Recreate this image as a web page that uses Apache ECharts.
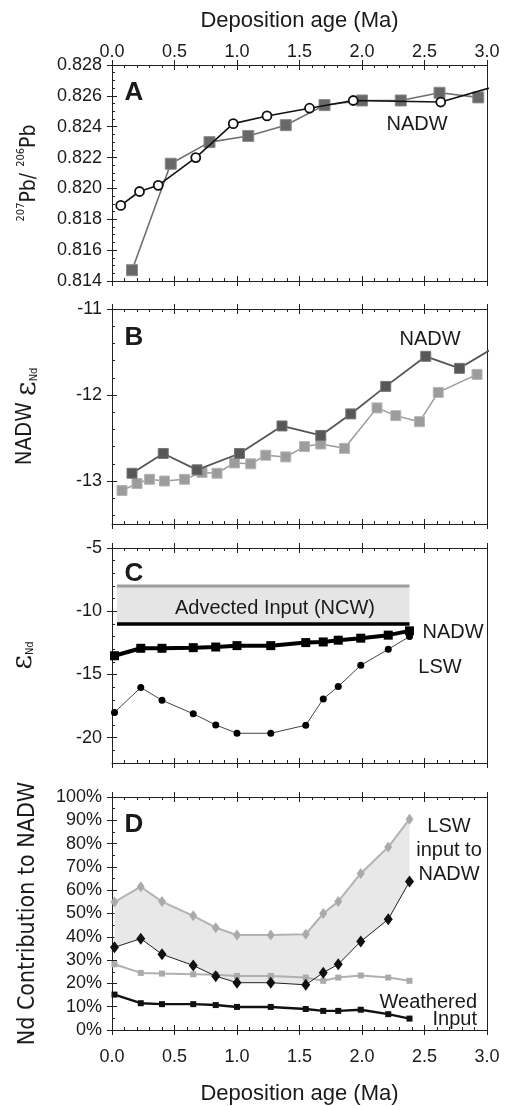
<!DOCTYPE html>
<html><head><meta charset="utf-8">
<script src="https://cdn.jsdelivr.net/npm/echarts@6/dist/echarts.min.js"></script>
<style>html,body{margin:0;padding:0;background:#fff}#c{width:511px;height:1106px}</style>
</head><body><div id="c"></div>
<script>
// ---------- DATA ----------
const ageTicks = [0, 0.5, 1, 1.5, 2, 2.5, 3];
const pbTicks = [0.814, 0.816, 0.818, 0.820, 0.822, 0.824, 0.826, 0.828];
const nadwTicks = [-13, -12, -11];
const epsTicks = [-20, -15, -10, -5];
const pctTicks = [0, 10, 20, 30, 40, 50, 60, 70, 80, 90, 100];

// Panel A: 207Pb/206Pb
const pbCircleAge = [0.07, 0.22, 0.37, 0.67, 0.97, 1.24, 1.58, 1.93, 2.63, 3.10];
const pbCircle    = [0.8189, 0.8198, 0.8202, 0.8220, 0.8242, 0.8247, 0.8252, 0.8257, 0.8256, 0.8267];
const pbSquareAge = [0.16, 0.47, 0.78, 1.09, 1.39, 1.70, 2.00, 2.31, 2.62, 2.93];
const pbSquare    = [0.8147, 0.8216, 0.8230, 0.8234, 0.8241, 0.8254, 0.8257, 0.8257, 0.8262, 0.8259];

// Panel B: NADW eNd
const bDarkAge  = [0.16, 0.41, 0.68, 1.02, 1.36, 1.67, 1.91, 2.19, 2.51, 2.78, 3.10];
const bDark     = [-12.91, -12.68, -12.87, -12.68, -12.36, -12.47, -12.22, -11.90, -11.55, -11.69, -11.41];
const bLightAge = [0.08, 0.20, 0.30, 0.42, 0.58, 0.72, 0.84, 0.98, 1.11, 1.23, 1.39, 1.54, 1.67, 1.86, 2.12, 2.27, 2.46, 2.61, 2.92];
const bLight    = [-13.11, -13.03, -12.98, -13.00, -12.98, -12.90, -12.91, -12.79, -12.80, -12.70, -12.72, -12.60, -12.57, -12.62, -12.15, -12.24, -12.31, -11.97, -11.76];

// Panels C and D share ages
const cdAge = [0.02, 0.23, 0.40, 0.65, 0.83, 1.00, 1.27, 1.55, 1.69, 1.81, 1.99, 2.21, 2.38];
const cNadw = [-13.52, -12.93, -12.93, -12.88, -12.83, -12.72, -12.72, -12.48, -12.43, -12.29, -12.13, -11.89, -11.55];
const cLsw  = [-18.0, -16.03, -17.04, -18.11, -18.99, -19.65, -19.65, -19.01, -16.93, -15.95, -14.27, -13.01, -12.0];
const ncwAge = [0.04, 2.38];
const ncwTop = -8;
const ncwBottom = -11;

const dUpper     = [54.9, 61.5, 55.1, 49.0, 43.9, 40.8, 40.8, 41.1, 50.0, 55.2, 67.2, 78.5, 90.5];
const dLower     = [35.5, 39.2, 32.5, 27.7, 23.1, 20.3, 20.3, 19.4, 24.6, 28.2, 38.0, 47.5, 63.7];
const dGrey      = [28.2, 24.5, 24.2, 23.9, 23.7, 23.2, 23.2, 22.5, 21.1, 22.5, 23.4, 22.5, 21.1];
const dWeathered = [15.2, 11.5, 11.1, 11.1, 10.7, 9.9, 9.9, 9.0, 8.2, 8.2, 8.7, 6.8, 4.9];

// ---------- BUILD ----------
const zip = (xs, ys) => xs.map((x, i) => [x, ys[i]]);

const TXT = '#1a1a1a';
const FONT = "'Liberation Sans', Arial, sans-serif";
const NARROW = "'Liberation Sans Narrow', 'DejaVu Sans Condensed', sans-serif";
const LC = '#222';
const ls = () => ({color: LC, width: 1});

const panels = [
  {top: 65, height: 216, min: 0.814, max: 0.828},
  {top: 309, height: 215, min: -13.5, max: -11},
  {top: 548, height: 215, min: -22, max: -5},
  {top: 797, height: 236, min: 0, max: 100}
];
const LEFT = 112, WIDTH = 375;

const yNames = [
  {text: '{sup|207}{m|Pb/ }{sup|206}{m|Pb}', rich: {
    m: {fontSize: 21, fontFamily: NARROW, color: TXT, lineHeight: 24, verticalAlign: 'bottom'},
    sup: {fontSize: 11, fontFamily: NARROW, color: TXT, lineHeight: 12, verticalAlign: 'top'}}},
  {text: '{m|NADW }{e|ε}{sub|Nd}', rich: {
    m: {fontSize: 22, fontFamily: NARROW, color: TXT, lineHeight: 26, verticalAlign: 'top'},
    e: {fontSize: 28, fontFamily: "'DejaVu Serif', serif", color: TXT, lineHeight: 26, verticalAlign: 'top'},
    sub: {fontSize: 11, fontFamily: NARROW, color: TXT, lineHeight: 12, verticalAlign: 'bottom'}}},
  {text: '{e|ε}{sub|Nd}', rich: {
    e: {fontSize: 28, fontFamily: "'DejaVu Serif', serif", color: TXT, lineHeight: 26, verticalAlign: 'top'},
    sub: {fontSize: 11, fontFamily: NARROW, color: TXT, lineHeight: 12, verticalAlign: 'bottom'}}},
  {text: '{m|Nd Contribution to NADW}', rich: {
    m: {fontSize: 23, fontFamily: NARROW, color: TXT}}}
];
// Tick layers per panel: each layer is a sub-range whose min is a multiple of its interval
const tickLayers = [
  [{min: 0.814, max: 0.828, interval: 0.002, minor: 4, labels: true, fmt: v => v.toFixed(3)}],
  [{min: -13, max: -11, interval: 1, labels: true, fmt: v => String(v)},
   {min: -13.4, max: -11, interval: 0.2, minorOnly: true}],
  [{min: -20, max: -5, interval: 5, labels: true, fmt: v => String(v)},
   {min: -22, max: -5, interval: 1, minorOnly: true}],
  [{min: 0, max: 100, interval: 10, minor: 2, labels: true, fmt: v => v + '%'}]
];

const gridsOpt = [], xAxes = [], yAxes = [];
const mainX = [], mainY = [];

function addGrid(top, height) {
  gridsOpt.push({show: false, left: LEFT, width: WIDTH, top, height});
  return gridsOpt.length - 1;
}

panels.forEach((p, pi) => {
  const gi = addGrid(p.top, p.height);
  ['bottom', 'top'].forEach(pos => {
    const showLabel = (pi === 0 && pos === 'top') || (pi === 3 && pos === 'bottom');
    const ax = {
      type: 'value', gridIndex: gi, position: pos, min: 0, max: 3, interval: 0.5,
      axisLine: {show: true, onZero: false, lineStyle: ls()},
      axisTick: {show: true, inside: true, length: 5, lineStyle: ls()},
      minorTick: {show: true, splitNumber: 5, length: 3, lineStyle: ls()},
      axisLabel: {show: showLabel, formatter: v => v.toFixed(1),
        color: TXT, fontSize: 18, fontFamily: FONT, margin: pos === 'top' ? 4 : 18},
      splitLine: {show: false}, minorSplitLine: {show: false}
    };
    if (showLabel) Object.assign(ax, {name: 'Deposition age (Ma)', nameLocation: 'middle',
      nameGap: pos === 'top' ? 33 : 53, nameTextStyle: {fontSize: 22, fontFamily: FONT, color: TXT}});
    if (pos === 'bottom') mainX.push(xAxes.length);
    xAxes.push(ax);
    xAxes.push({type: 'value', gridIndex: gi, position: pos, min: 0, max: 3, interval: 0.5,
      axisLine: {show: false, onZero: false}, axisLabel: {show: false}, splitLine: {show: false},
      axisTick: {show: true, inside: false, length: 5, lineStyle: ls()}});
  });
  mainY.push(yAxes.length);
  yAxes.push({type: 'value', gridIndex: gi, position: 'left', min: p.min, max: p.max,
    axisLine: {show: true, onZero: false, lineStyle: ls()},
    axisTick: {show: false}, axisLabel: {show: false}, splitLine: {show: false},
    name: yNames[pi].text, nameLocation: 'middle', nameRotate: 90,
    nameGap: pi === 2 ? 76 : 72, nameTextStyle: {rich: yNames[pi].rich}});
  yAxes.push({type: 'value', gridIndex: gi, position: 'right', min: p.min, max: p.max,
    axisLine: {show: true, onZero: false, lineStyle: ls()}, axisTick: {show: false},
    axisLabel: {show: false}, splitLine: {show: false}});
  tickLayers[pi].forEach(t => {
    const h = p.height * (t.max - t.min) / (p.max - p.min);
    const top = p.top + p.height * (p.max - t.max) / (p.max - p.min);
    const tg = (t.min === p.min && t.max === p.max) ? gi : addGrid(top, h);
    if (tg !== gi) xAxes.push({type: 'value', gridIndex: tg, show: false, min: 0, max: 3});
    const base = {type: 'value', gridIndex: tg, position: 'left', min: t.min, max: t.max, interval: t.interval,
      axisLine: {show: false, onZero: false}, splitLine: {show: false}};
    if (t.minorOnly) {
      yAxes.push(Object.assign({}, base, {axisLabel: {show: false},
        axisTick: {show: true, inside: true, length: 3, lineStyle: ls()}}));
    } else {
      yAxes.push(Object.assign({}, base, {
        axisLabel: {show: true, formatter: t.fmt, color: TXT, fontSize: 18, fontFamily: FONT, margin: 10},
        axisTick: {show: true, inside: true, length: 5, lineStyle: ls()},
        minorTick: {show: !!t.minor, splitNumber: t.minor || 5, length: 3, lineStyle: ls()}}));
      yAxes.push(Object.assign({}, base, {axisLabel: {show: false},
        axisTick: {show: true, inside: false, length: 5, lineStyle: ls()}}));
    }
  });
});

function line(pi, xs, ys, o) {
  return Object.assign({
    type: 'line', xAxisIndex: mainX[pi], yAxisIndex: mainY[pi], data: zip(xs, ys),
    clip: true, animation: false, silent: true
  }, o);
}

const series = [
  line(0, pbSquareAge, pbSquare, {symbol: 'rect', symbolSize: 11,
    lineStyle: {color: '#6f6f6f', width: 1.6}, itemStyle: {color: '#686868', borderColor: '#8a8a8a', borderWidth: 1}, z: 3}),
  line(0, pbCircleAge, pbCircle, {symbol: 'circle', symbolSize: 9,
    lineStyle: {color: '#111', width: 1.6}, itemStyle: {color: '#fff', borderColor: '#111', borderWidth: 1.8}, z: 4}),
  line(1, bLightAge, bLight, {symbol: 'rect', symbolSize: 10,
    lineStyle: {color: '#9a9a9a', width: 1.5}, itemStyle: {color: '#9c9c9c', borderColor: '#b5b5b5', borderWidth: 1}, z: 3}),
  line(1, bDarkAge, bDark, {symbol: 'rect', symbolSize: 10,
    lineStyle: {color: '#555', width: 1.8}, itemStyle: {color: '#575757', borderColor: '#777', borderWidth: 1}, z: 4}),
  {type: 'custom', xAxisIndex: mainX[2], yAxisIndex: mainY[2], silent: true, animation: false, z: 1,
    data: [[ncwAge[0], ncwTop]],
    renderItem: (p, api) => {
      const a = api.coord([ncwAge[0], ncwTop]), b = api.coord([ncwAge[1], ncwBottom]);
      return {type: 'rect', shape: {x: a[0], y: a[1], width: b[0] - a[0], height: b[1] - a[1]},
        style: {fill: '#e5e5e5'}};
    }},
  line(2, ncwAge, [ncwTop, ncwTop], {symbol: 'none', lineStyle: {color: '#9d9d9d', width: 3}, z: 2}),
  line(2, ncwAge, [ncwBottom, ncwBottom], {symbol: 'none', lineStyle: {color: '#000', width: 3.5}, z: 2}),
  line(2, cdAge, cLsw, {symbol: 'circle', symbolSize: 7,
    lineStyle: {color: '#444', width: 1}, itemStyle: {color: '#000'}, z: 3}),
  line(2, cdAge, cNadw, {symbol: 'rect', symbolSize: 9,
    lineStyle: {color: '#000', width: 4}, itemStyle: {color: '#000'}, z: 4}),
  {type: 'custom', xAxisIndex: mainX[3], yAxisIndex: mainY[3], silent: true, animation: false, z: 1,
    data: [[cdAge[0], dLower[0]]],
    renderItem: (p, api) => {
      const pts = [];
      for (let i = 0; i < cdAge.length; i++) pts.push(api.coord([cdAge[i], dUpper[i]]));
      for (let i = cdAge.length - 1; i >= 0; i--) pts.push(api.coord([cdAge[i], dLower[i]]));
      return {type: 'polygon', shape: {points: pts}, style: {fill: '#e8e8e8'}};
    }},
  line(3, cdAge, dWeathered, {symbol: 'rect', symbolSize: 6,
    lineStyle: {color: '#111', width: 2.4}, itemStyle: {color: '#111'}, z: 3}),
  line(3, cdAge, dGrey, {symbol: 'rect', symbolSize: 6,
    lineStyle: {color: '#b0b0b0', width: 2}, itemStyle: {color: '#aaa'}, z: 3}),
  line(3, cdAge, dUpper, {symbol: 'diamond', symbolSize: [8, 11],
    lineStyle: {color: '#b3b3b3', width: 2}, itemStyle: {color: '#aaa'}, z: 4}),
  line(3, cdAge, dLower, {symbol: 'diamond', symbolSize: [9, 12],
    lineStyle: {color: '#222', width: 1}, itemStyle: {color: '#111'}, z: 5})
];

const lbl = (x, y, text, o) => ({type: 'text', x, y, z: 100, silent: true,
  style: Object.assign({text, fill: TXT, font: '20px ' + FONT, align: 'center', verticalAlign: 'middle'}, o || {})});
const graphic = [
  lbl(134, 93, 'A', {font: 'bold 26px ' + FONT}),
  lbl(134, 338, 'B', {font: 'bold 26px ' + FONT}),
  lbl(134, 574, 'C', {font: 'bold 26px ' + FONT}),
  lbl(134, 825, 'D', {font: 'bold 26px ' + FONT}),
  lbl(417, 124, 'NADW'),
  lbl(430, 339, 'NADW'),
  lbl(275, 608, 'Advected Input (NCW)'),
  lbl(453, 632, 'NADW'),
  lbl(440, 667, 'LSW'),
  lbl(449, 826, 'LSW'),
  lbl(449, 850, 'input to'),
  lbl(449, 874, 'NADW'),
  lbl(477, 1002, 'Weathered', {align: 'right'}),
  lbl(477, 1019, 'Input', {align: 'right'})
];

const chart = echarts.init(document.getElementById('c'), null, {renderer: 'canvas'});
chart.setOption({
  backgroundColor: '#fff',
  animation: false,
  grid: gridsOpt,
  xAxis: xAxes,
  yAxis: yAxes,
  series,
  graphic
});
</script></body></html>
